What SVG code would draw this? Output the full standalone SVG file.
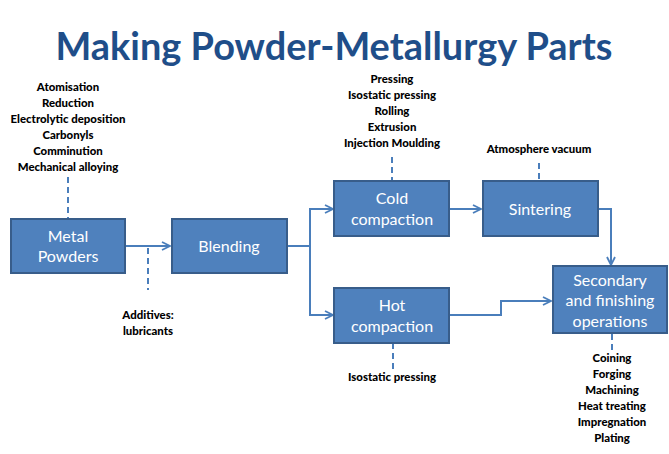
<svg xmlns="http://www.w3.org/2000/svg" width="669" height="454" viewBox="0 0 669 454">
<defs>
<style>
.box{fill:#4F81BD;stroke:#385D8A;stroke-width:2}
.bt{font-family:Lato,"Open Sans",sans-serif;font-size:16px;fill:#fff;text-anchor:middle}
.lbl{font-family:Lato,"Liberation Sans",sans-serif;font-weight:900;font-size:11.4px;fill:#000;text-anchor:middle}
.con{fill:none;stroke:#4A7EBB;stroke-width:2}
.dash{fill:none;stroke:#4A7EBB;stroke-width:2;stroke-dasharray:6,4}
</style>
<marker id="arr" viewBox="0 0 10 10" refX="9" refY="5" markerWidth="10" markerHeight="10" markerUnits="userSpaceOnUse" orient="auto">
<path d="M1,1 L9,5 L1,9" fill="none" stroke="#4A7EBB" stroke-width="1.8"/>
</marker>
</defs>
<rect width="669" height="454" fill="#fff"/>
<text x="334" y="60" font-family="Lato,'Open Sans',sans-serif" font-weight="bold" font-size="39" fill="#1F4E89" text-anchor="middle" textLength="557" lengthAdjust="spacingAndGlyphs">Making Powder-Metallurgy Parts</text>

<g id="connectors">
<path class="con" d="M125,246 H170" marker-end="url(#arr)"/>
<path class="con" d="M287,246 H310 V209 H333" marker-end="url(#arr)"/>
<path class="con" d="M310,246 V315 H333" marker-end="url(#arr)"/>
<path class="con" d="M449,209 H481" marker-end="url(#arr)"/>
<path class="con" d="M598,209 H611 V265" marker-end="url(#arr)"/>
<path class="con" d="M449,315 H501 V301 H551" marker-end="url(#arr)"/>
<path class="dash" d="M68,177 V218"/>
<path class="dash" d="M148,248 V290" stroke-width="3"/>
<path class="dash" d="M392,157 V181"/>
<path class="dash" d="M539,163 V181"/>
<path class="dash" d="M393,343 V371"/>
<path class="dash" d="M612,334 V354"/>
</g>

<g id="metal-powders">
<rect class="box" x="11" y="219" width="114" height="54"/>
<text class="bt" x="68" y="242">Metal</text>
<text class="bt" x="68" y="262">Powders</text>
</g>
<g id="blending">
<rect class="box" x="172" y="219" width="115" height="54"/>
<text class="bt" x="229" y="252">Blending</text>
</g>
<g id="cold-compaction">
<rect class="box" x="334" y="181" width="115" height="55"/>
<text class="bt" x="392" y="204">Cold</text>
<text class="bt" x="392" y="225">compaction</text>
</g>
<g id="sintering">
<rect class="box" x="483" y="181" width="115" height="55"/>
<text class="bt" x="540" y="215">Sintering</text>
</g>
<g id="hot-compaction">
<rect class="box" x="334" y="288" width="115" height="55"/>
<text class="bt" x="392" y="311">Hot</text>
<text class="bt" x="392" y="332">compaction</text>
</g>
<g id="secondary">
<rect class="box" x="553" y="266" width="114" height="67"/>
<text class="bt" x="610" y="286">Secondary</text>
<text class="bt" x="610" y="306">and finishing</text>
<text class="bt" x="610" y="327">operations</text>
</g>

<g id="powder-methods">
<text class="lbl" x="68" y="91">Atomisation</text>
<text class="lbl" x="68" y="107">Reduction</text>
<text class="lbl" x="68" y="123">Electrolytic deposition</text>
<text class="lbl" x="68" y="139">Carbonyls</text>
<text class="lbl" x="68" y="155">Comminution</text>
<text class="lbl" x="68" y="171">Mechanical alloying</text>
</g>
<g id="additives">
<text class="lbl" x="148" y="319">Additives:</text>
<text class="lbl" x="148" y="335">lubricants</text>
</g>
<g id="cold-methods">
<text class="lbl" x="392" y="83">Pressing</text>
<text class="lbl" x="392" y="99">Isostatic pressing</text>
<text class="lbl" x="392" y="115">Rolling</text>
<text class="lbl" x="392" y="131">Extrusion</text>
<text class="lbl" x="392" y="147">Injection Moulding</text>
</g>
<g id="sinter-atm">
<text class="lbl" x="539" y="153">Atmosphere vacuum</text>
</g>
<g id="hot-methods">
<text class="lbl" x="392" y="381">Isostatic pressing</text>
</g>
<g id="finishing-methods">
<text class="lbl" x="612" y="362">Coining</text>
<text class="lbl" x="612" y="378">Forging</text>
<text class="lbl" x="612" y="394">Machining</text>
<text class="lbl" x="612" y="410">Heat treating</text>
<text class="lbl" x="612" y="426">Impregnation</text>
<text class="lbl" x="612" y="442">Plating</text>
</g>
</svg>
